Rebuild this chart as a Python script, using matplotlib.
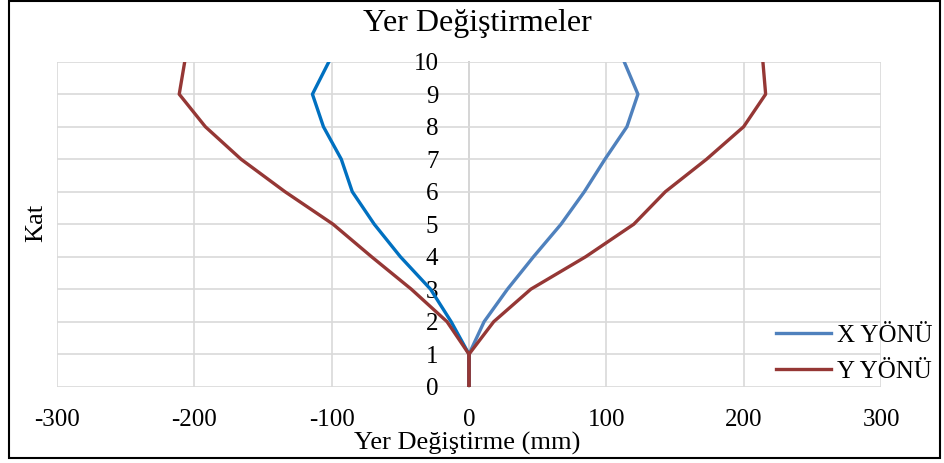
import matplotlib
matplotlib.use("Agg")
import matplotlib.pyplot as plt
from matplotlib.lines import Line2D
from matplotlib.patches import Rectangle

plt.rcParams['font.family'] = ['Liberation Serif', 'DejaVu Serif']
plt.rcParams['axes.unicode_minus'] = False

# kat numaralari ve yer degistirmeler (mm)
kat = [0, 1, 2, 3, 4, 5, 6, 7, 8, 9, 10]
x_pos = [0, 0, 11, 28, 47, 67, 84, 99, 115, 123, 113]
x_neg = [0, 0, -13, -28, -50, -69, -85, -93, -106, -114, -102]
y_pos = [0, 0, 18, 45, 85, 120, 143, 173, 200, 216, 214]
y_neg = [0, 0, -16, -42, -71, -99, -134, -166, -192, -211, -207]

x_ticks = [-300, -200, -100, 0, 100, 200, 300]
legend_labels = ["X YÖNÜ", "Y YÖNÜ"]

W, H = 944, 463
fig = plt.figure(figsize=(W / 100, H / 100), dpi=100)
ax = fig.add_axes([57 / W, (H - 386.7) / H, 824 / W, 325 / H])

blue_pos = '#4F81BD'
blue_neg = '#0070C0'
red = '#953735'
lw = 2.4

ax.plot(x_pos, kat, color=blue_pos, lw=lw, solid_joinstyle='round')
ax.plot(x_neg, kat, color=blue_neg, lw=lw, solid_joinstyle='round')
ax.plot(y_pos, kat, color=red, lw=lw, solid_joinstyle='round')
ax.plot(y_neg, kat, color=red, lw=lw, solid_joinstyle='round')

ax.set_xlim(-300, 300)
ax.set_ylim(0, 10)
ax.set_xticks(x_ticks)
ax.set_yticks(kat)
ax.grid(True, color='#D9D9D9', lw=1.2)
ax.set_axisbelow(True)

for s in ['top', 'right', 'bottom']:
    ax.spines[s].set_visible(False)
ax.spines['left'].set_position(('data', 0))
ax.spines['left'].set_color('#BFBFBF')
ax.spines['left'].set_linewidth(1.2)
ax.spines['left'].set_zorder(0.5)

ax.tick_params(axis='x', length=0, pad=16, labelsize=18)
ax.tick_params(axis='y', length=0, pad=22, labelsize=18)

# basliklar
fig.text(477 / W, 1 - 23 / H, "Yer Değiştirmeler", ha='center', va='center', fontsize=23)
fig.text(467 / W, 1 - 443 / H, "Yer Değiştirme (mm)", ha='center', va='center', fontsize=19)
fig.text(36 / W, 1 - 223 / H, "Kat", ha='center', va='center', rotation=90, fontsize=19)

handles = [Line2D([], [], color=blue_pos, lw=lw), Line2D([], [], color=red, lw=lw)]
fig.legend(handles, legend_labels, loc='upper left', bbox_to_anchor=(776 / W, 1 - 324 / H),
           frameon=False, fontsize=18, handlelength=2.2, handletextpad=0.25,
           labelspacing=0.56, borderpad=0, borderaxespad=0)

fig.patches.append(Rectangle((8.5 / W, 5 / H), 931 / W, 457 / H, transform=fig.transFigure,
                             fill=False, edgecolor='black', lw=1.5))

fig.savefig("out.png", dpi=100)
